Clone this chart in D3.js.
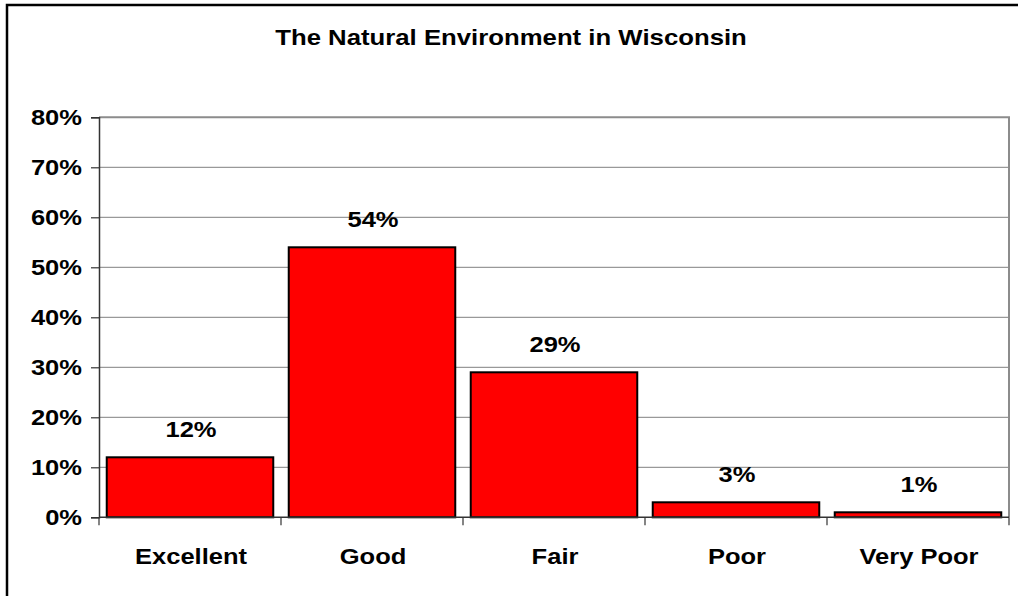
<!DOCTYPE html>
<html>
<head>
<meta charset="utf-8">
<script src="https://cdn.jsdelivr.net/npm/d3@7"></script>
<style>
  html, body { margin: 0; padding: 0; background: #fff; }
  svg { display: block; }
  text { font-family: "Liberation Sans", Arial, sans-serif; font-weight: bold; fill: #000; font-size: 22px; }
</style>
</head>
<body>
<svg id="chart" width="1018" height="596"></svg>
<script>
const title = "The Natural Environment in Wisconsin";
const categories = ["Excellent", "Good", "Fair", "Poor", "Very Poor"];
const values = [0.12, 0.54, 0.29, 0.03, 0.01];
const valueLabels = ["12%", "54%", "29%", "3%", "1%"];
const yTicks = [0, 0.1, 0.2, 0.3, 0.4, 0.5, 0.6, 0.7, 0.8];

const SX = 1.16; // horizontal stretch of the text, as in the reference
const svg = d3.select("#chart");
const plot = { left: 99, right: 1009, top: 117.3, bottom: 517.3 };

// outer frame
svg.append("rect")
  .attr("x", 7).attr("y", 5)
  .attr("width", 1030).attr("height", 610)
  .attr("fill", "#fff").attr("stroke", "#000").attr("stroke-width", 2.5);

const x = d3.scaleBand().domain(categories)
  .range([plot.left, plot.right])
  .paddingInner(0.085).paddingOuter(0.0425);
const y = d3.scaleLinear().domain([0, 0.8]).range([plot.bottom, plot.top]);

// gridlines
svg.append("g").selectAll("line").data(yTicks.filter(d => d > 0 && d < 0.8)).join("line")
  .attr("x1", plot.left).attr("x2", plot.right)
  .attr("y1", d => y(d)).attr("y2", d => y(d))
  .attr("stroke", "#808080").attr("stroke-width", 1);

// plot border (top & right)
svg.append("path")
  .attr("d", `M${plot.left},${plot.top}H${plot.right}V${plot.bottom}`)
  .attr("fill", "none").attr("stroke", "#8c8c8c").attr("stroke-width", 2);

// bars
svg.append("g").selectAll("rect").data(values).join("rect")
  .attr("x", (d, i) => x(categories[i]))
  .attr("width", x.bandwidth())
  .attr("y", d => y(d))
  .attr("height", d => y(0) - y(d))
  .attr("fill", "#ff0000").attr("stroke", "#000").attr("stroke-width", 2);

// y axis
const yAxis = svg.append("g")
  .attr("transform", `translate(${plot.left},0)`)
  .call(d3.axisLeft(y).tickValues(yTicks).tickFormat("").tickSize(8));
yAxis.select(".domain").attr("stroke", "#333").attr("stroke-width", 1.5);
yAxis.selectAll(".tick line").attr("stroke", "#333").attr("stroke-width", 1.2);

const fmt = d3.format(".0%");
svg.append("g").selectAll("text").data(yTicks).join("text")
  .attr("transform", d => `translate(82,${y(d) + 8}) scale(${SX},1)`)
  .attr("text-anchor", "end")
  .text(d => fmt(d));

// x axis with ticks at category boundaries
const xAxisG = svg.append("g").attr("transform", `translate(0,${plot.bottom})`);
xAxisG.append("line").attr("x1", plot.left).attr("x2", plot.right)
  .attr("stroke", "#333").attr("stroke-width", 1.5);
const step = x.step();
const bounds = d3.range(categories.length + 1).map(i => plot.left + i * step);
xAxisG.selectAll("line.tk").data(bounds).join("line").attr("class", "tk")
  .attr("x1", d => d).attr("x2", d => d).attr("y1", 0).attr("y2", 8)
  .attr("stroke", "#333").attr("stroke-width", 1.2);

// category labels
svg.append("g").selectAll("text").data(categories).join("text")
  .attr("transform", d => `translate(${x(d) + x.bandwidth() / 2 + 1},563.5) scale(${SX},1)`)
  .attr("text-anchor", "middle")
  .text(d => d);

// value labels
svg.append("g").selectAll("text").data(values).join("text")
  .attr("transform", (d, i) => `translate(${x(categories[i]) + x.bandwidth() / 2 + 1},${y(d) - 20}) scale(${SX},1)`)
  .attr("text-anchor", "middle")
  .text((d, i) => valueLabels[i]);

// title
svg.append("text")
  .attr("transform", `translate(511,45) scale(1.17,1)`)
  .attr("text-anchor", "middle")
  .text(title);
</script>
</body>
</html>
